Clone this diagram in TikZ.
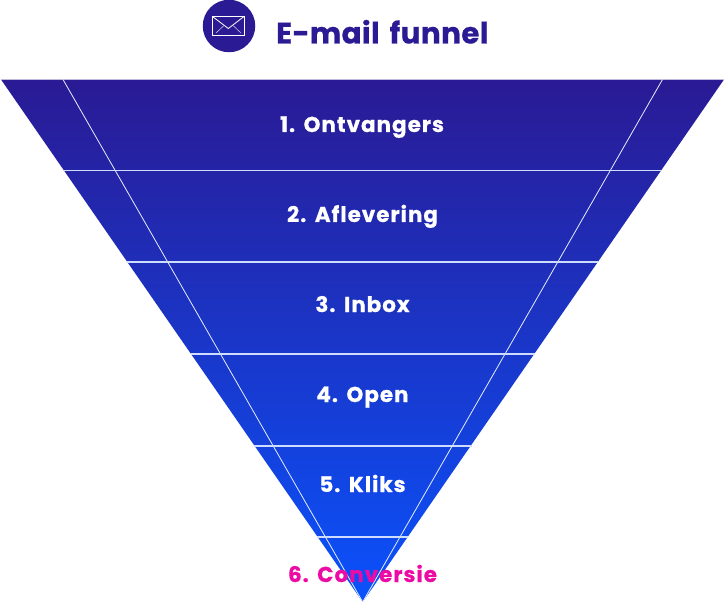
\documentclass[tikz,border=0pt]{standalone}
\usepackage{fontspec}
\setmainfont{Poppins}[BoldFont=* Bold]
\newfontface\lblfont{Poppins Bold}[LetterSpace=4.5,WordSpace=1.2,FakeBold=0.5]
\newfontface\ttlfont{Poppins Bold}[LetterSpace=1.2,WordSpace=1.5,FakeBold=0.5]
\definecolor{fTop}{HTML}{2A1A94}
\definecolor{fBot}{HTML}{0A52FC}
\definecolor{pinkT}{HTML}{EC0BA4}
\tikzset{
  lbl/.style={font=\lblfont\fontsize{21.5}{25}\selectfont,text=white,anchor=base,inner sep=0pt},
  rule/.style={draw=white!80!fBot,line width=1.2pt},
  thin rule/.style={draw=white!90!fBot,line width=0.8pt},
}
\begin{document}
\begin{tikzpicture}[x=1pt,y=-1pt]
\useasboundingbox (0,0) rectangle (725,604);
\coordinate (tl) at (1,79.5);
\coordinate (tr) at (724,79.5);
\coordinate (apex) at (362.7,602);
\coordinate (il) at (63,79.5);
\coordinate (ir) at (662.5,79.5);
\shade[top color=fTop,bottom color=fBot,shading angle=0] (tl) -- (tr) -- (apex) -- cycle;
\draw[draw=white!70!fTop,line width=0.5pt] (tl) -- (tr);
\draw[thin rule] (il) -- (apex);
\draw[thin rule] (ir) -- (apex);
\foreach \y/\xa/\xb in {170.5/63.8/661,262/127/598,354/190.5/534.5,446/254/471.5,537/317/408}
  \draw[rule] (\xa,\y) -- (\xb,\y);
\node[lbl] (n1) at (362,132) {1. Ontvangers};
\node[lbl] (n2) at (362.5,222) {2. Aflevering};
\node[lbl] (n3) at (362.5,312) {3. Inbox};
\node[lbl] (n4) at (362.5,402) {4. Open};
\node[lbl] (n5) at (362.5,492) {5. Kliks};
\node[lbl,text=pinkT] (n6) at (362.5,582) {6. Conversie};
\node[circle,fill=fTop,minimum size=52.5pt,inner sep=0pt] (ic) at (229,26) {};
\draw[white,line width=1pt] (212.5,16.5) rectangle (244,36);
\draw[white,line width=0.8pt] (212.5,16.5) -- (228.3,28.5) -- (244,16.5);
\draw[white!70!fTop,line width=0.6pt] (216,33) -- (224,25.5) (241,33) -- (233,25.5);
\node[font=\ttlfont\fontsize{29.5}{34}\selectfont,text=fTop,anchor=base west,inner sep=0pt] (title) at (276,43.5) {E-mail funnel};
\end{tikzpicture}
\end{document}
